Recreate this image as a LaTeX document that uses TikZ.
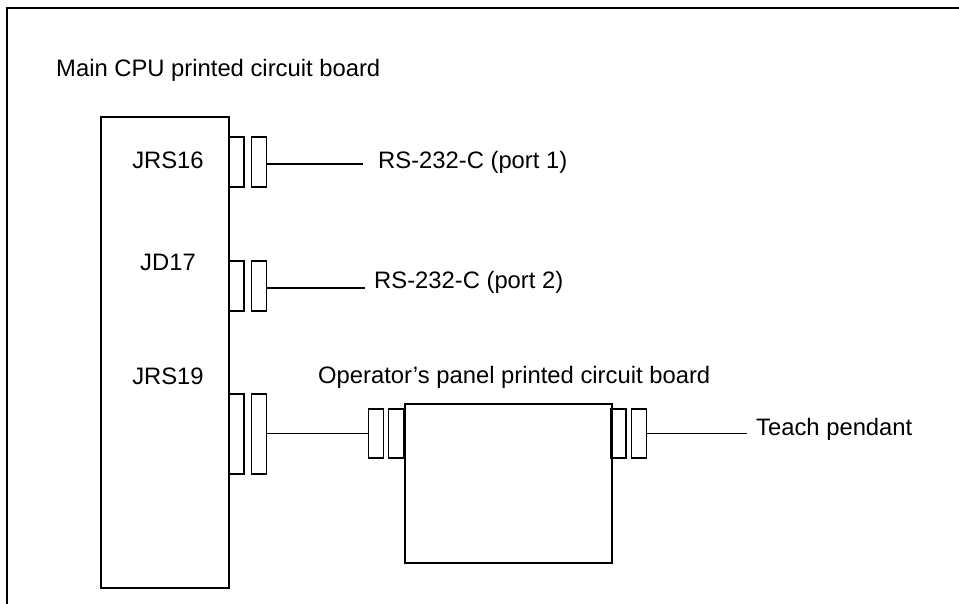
\documentclass[tikz,border=0pt]{standalone}
\usepackage{fontspec}
\setmainfont{Liberation Sans}
\begin{document}
\begin{tikzpicture}[x=1pt,y=-1pt,
  lbl/.style={inner sep=0pt,font=\fontsize{23.8}{28}\selectfont},
  box/.style={draw,line width=2pt},
  pin/.style={draw,line width=1.8pt,inner sep=0pt,minimum width=15pt},
  wire/.style={line width=1.8pt}]
\useasboundingbox (0,0) rectangle (959,604);
% outer frame (cropped on right and bottom)
\draw[line width=1.6pt] (7,604) -- (7,8) -- (962,8);
% main board
\node[box,inner sep=0pt,anchor=north west,minimum width=128pt,minimum height=471pt] (main) at (100,116) {};
\node[lbl,anchor=base west] (mainlbl) at (56,77) {Main CPU printed circuit board};
\node[lbl,anchor=base] (jrs16) at (168,169) {JRS16};
\node[lbl,anchor=base] (jd17) at (168,271) {JD17};
\node[lbl,anchor=base] (jrs19) at (168,384) {JRS19};
% JRS16 connector
\node[pin,minimum height=50pt] (a1) at (236.5,162) {};
\node[pin,minimum height=50pt] (a2) at (259,162) {};
% JD17 connector
\node[pin,minimum height=50pt] (b1) at (236.5,286) {};
\node[pin,minimum height=50pt] (b2) at (259,286) {};
% JRS19 connector
\node[pin,minimum height=80pt] (c1) at (236.5,434) {};
\node[pin,minimum height=80pt] (c2) at (259,434) {};
% operator panel board
\node[box,inner sep=0pt,anchor=north west,minimum width=207pt,minimum height=159pt] (op) at (404,403) {};
\node[lbl,anchor=base west] (oplbl) at (318,383) {Operator’s panel printed circuit board};
\node[pin,minimum height=49pt] (d1) at (376,433.5) {};
\node[pin,minimum height=49pt] (d2) at (396,433.5) {};
\node[pin,minimum height=49pt] (e1) at (618.5,433.5) {};
\node[pin,minimum height=49pt] (e2) at (639,433.5) {};
% wire ends
\coordinate (p1) at (363,164);
\coordinate (p2) at (365,288);
\coordinate (p3) at (747,433);
\node[lbl,anchor=base west] (port1) at (378,169) {RS-232-C (port 1)};
\node[lbl,anchor=base west] (port2) at (374,288.5) {RS-232-C (port 2)};
\node[lbl,anchor=base west] (teach) at (756,435) {Teach pendant};
% wires
\draw[wire] (a2.east |- p1) -- (p1);
\draw[wire] (b2.east |- p2) -- (p2);
\draw[wire] (c2.east |- d1.west) -- (d1.west);
\draw[wire] (e2.east) -- (e2.east -| p3);
\end{tikzpicture}
\end{document}
